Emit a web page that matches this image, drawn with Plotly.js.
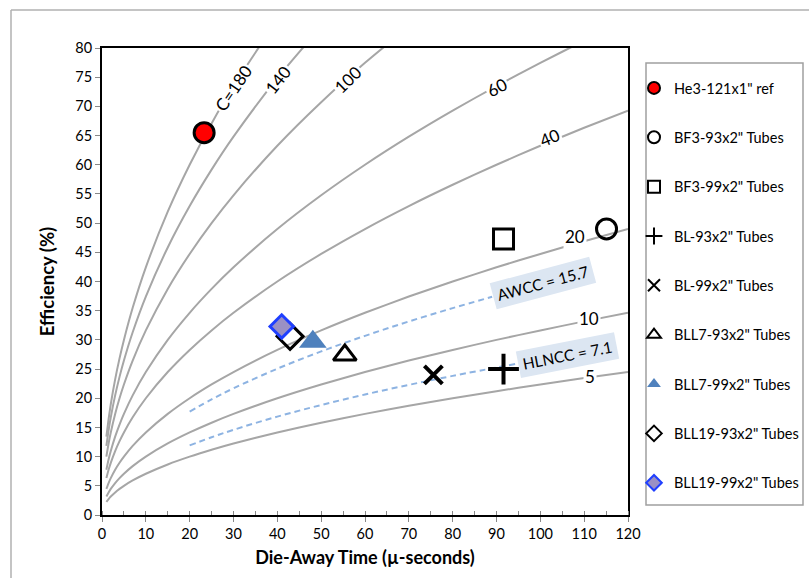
<!DOCTYPE html>
<html>
<head>
<meta charset="utf-8">
<script src="https://cdn.plot.ly/plotly-3.0.1.min.js"></script>
<style>
  html, body { margin: 0; padding: 0; background: #ffffff; overflow: hidden; }
  #chart { width: 809px; height: 578px; }
</style>
</head>
<body>
<div id="chart"></div>
<script>
// ---- Iso-C reference curves ----
const curveX = [1, 1.5, 2, 3, 4, 5, 7, 10, 15, 20, 25, 30, 40, 50, 60, 70, 80, 90, 100, 110, 120];
const c5Y   = [2.24, 2.74, 3.16, 3.87, 4.47, 5.00, 5.92, 7.07, 8.66, 10.00, 11.18, 12.25, 14.14, 15.81, 17.32, 18.71, 20.00, 21.21, 22.36, 23.45, 24.49];
const c10Y  = [3.16, 3.87, 4.47, 5.48, 6.32, 7.07, 8.37, 10.00, 12.25, 14.14, 15.81, 17.32, 20.00, 22.36, 24.49, 26.46, 28.28, 30.00, 31.62, 33.17, 34.64];
const c20Y  = [4.47, 5.48, 6.32, 7.75, 8.94, 10.00, 11.83, 14.14, 17.32, 20.00, 22.36, 24.49, 28.28, 31.62, 34.64, 37.42, 40.00, 42.43, 44.72, 46.90, 48.99];
const c40Y  = [6.32, 7.75, 8.94, 10.95, 12.65, 14.14, 16.73, 20.00, 24.49, 28.28, 31.62, 34.64, 40.00, 44.72, 48.99, 52.92, 56.57, 60.00, 63.25, 66.33, 69.28];
const c60Y  = [7.75, 9.49, 10.95, 13.42, 15.49, 17.32, 20.49, 24.49, 30.00, 34.64, 38.73, 42.43, 48.99, 54.77, 60.00, 64.81, 69.28, 73.48, 77.46, 81.24, 84.85];
const c100Y = [10.00, 12.25, 14.14, 17.32, 20.00, 22.36, 26.46, 31.62, 38.73, 44.72, 50.00, 54.77, 63.25, 70.71, 77.46, 83.67];
const c140Y = [11.83, 14.49, 16.73, 20.49, 23.66, 26.46, 31.30, 37.42, 45.83, 52.92, 59.16, 64.81, 74.83, 83.67];
const c180Y = [13.42, 16.43, 18.97, 23.24, 26.83, 30.00, 35.50, 42.43, 51.96, 60.00, 67.08, 73.48, 84.85];

// ---- Dashed counter curves ----
const awccX  = [20, 25, 30, 40, 50, 60, 70, 80, 89];
const awccY  = [17.72, 19.81, 21.70, 25.06, 28.02, 30.69, 33.15, 35.44, 37.38];
const hlnccX = [20, 25, 30, 40, 50, 60, 70, 80, 94.5];
const hlnccY = [11.92, 13.32, 14.59, 16.85, 18.84, 20.64, 22.29, 23.83, 25.90];

// ---- Detector points ----
const seriesNames = ['He3-121x1" ref', 'BF3-93x2" Tubes', 'BF3-99x2" Tubes', 'BL-93x2" Tubes', 'BL-99x2" Tubes',
                     'BLL7-93x2" Tubes', 'BLL7-99x2" Tubes', 'BLL19-93x2" Tubes', 'BLL19-99x2" Tubes'];
const dieAway    = [23.3, 115.1, 91.6, 91.6, 75.6, 55.4, 48.1, 42.9, 41.0];
const efficiency = [65.5, 49.0, 47.3, 25.0, 24.0, 27.4, 29.7, 30.6, 32.3];

// ---- Curve labels ----
const labelText = ['C=180', '140', '100', '60', '40', '20', '10', '5'];
const labelX    = [29.9, 40.2, 56.1, 90.0, 102.1, 107.8, 111.0, 111.4];
const labelY    = [73.1, 74.6, 74.6, 73.3, 64.6, 47.7, 33.7, 23.7];
const labelAng  = [-56, -52, -44, -28, -22, 0, 0, 0];

const boxText = ['AWCC = 15.7', 'HLNCC = 7.1'];
const boxX    = [100.6, 106.3];
const boxY    = [39.7, 27.4];
const boxAng  = [-15, -11];

const FONT = 'Lato, "Open Sans", "Liberation Sans", sans-serif';
const gray = '#a6a6a6';

const traces = [];
const curveSets = [c5Y, c10Y, c20Y, c40Y, c60Y, c100Y, c140Y, c180Y];
curveSets.forEach(ys => {
  traces.push({
    x: curveX.slice(0, ys.length), y: ys, type: 'scatter', mode: 'lines',
    line: {color: gray, width: 2, shape: 'spline', smoothing: 0.6},
    showlegend: false, hoverinfo: 'skip'
  });
});
[[awccX, awccY], [hlnccX, hlnccY]].forEach(([xs, ys]) => {
  traces.push({
    x: xs, y: ys, type: 'scatter', mode: 'lines',
    line: {color: '#8db3e2', width: 2, dash: '6px,4px', shape: 'spline'},
    showlegend: false, hoverinfo: 'skip'
  });
});

const markerStyles = [
  {symbol: 'circle', size: 20, color: '#ff0000', line: {color: '#000000', width: 3}},
  {symbol: 'circle-open', size: 20, color: '#000000', line: {color: '#000000', width: 3}},
  {symbol: 'square-open', size: 20, color: '#000000', line: {color: '#000000', width: 3}},
  {symbol: 'cross-thin-open', size: 22, color: '#000000', line: {color: '#000000', width: 4}},
  {symbol: 'x-thin-open', size: 18, color: '#000000', line: {color: '#000000', width: 4}},
  {symbol: 'triangle-up-open', size: 20, color: '#000000', line: {color: '#000000', width: 3}},
  {symbol: 'triangle-up', size: 24, color: '#4f81bd', line: {color: '#4f81bd', width: 0}},
  {symbol: 'diamond-open', size: 20, color: '#000000', line: {color: '#000000', width: 3}},
  {symbol: 'diamond', size: 18, color: '#9a90c4', line: {color: '#1f3fff', width: 3}}
];

seriesNames.forEach((name, i) => {
  traces.push({
    x: [dieAway[i]], y: [efficiency[i]], type: 'scatter', mode: 'markers',
    name: name, legendgroup: 'g' + i,
    marker: markerStyles[i], hoverinfo: 'name+x+y'
  });
});

const annotations = [];
labelText.forEach((t, i) => {
  annotations.push({
    x: labelX[i], y: labelY[i], xref: 'x', yref: 'y', text: t, showarrow: false,
    textangle: labelAng[i], bgcolor: '#ffffff', borderpad: 1,
    font: {family: FONT, size: 17, color: '#000000'}
  });
});
boxText.forEach((t, i) => {
  annotations.push({
    x: boxX[i], y: boxY[i], xref: 'x', yref: 'y', text: t, showarrow: false,
    textangle: boxAng[i], bgcolor: '#dce6f2', borderpad: 4,
    font: {family: FONT, size: 15.5, color: '#000000'}
  });
});

// paper spans x 102..809 (707 px); plot area 102..628
const PW = 707;
const px = v => (v - 102) / PW;
const py = v => (515 - v) / 467;

const layout = {
  width: 809, height: 578,
  margin: {l: 102, r: 0, t: 48, b: 63, autoexpand: false},
  paper_bgcolor: '#ffffff', plot_bgcolor: '#ffffff',
  font: {family: FONT, size: 14, color: '#000000'},
  xaxis: {
    domain: [0, 526 / PW],
    range: [0, 120], dtick: 10, tick0: 0,
    showgrid: false, zeroline: false,
    showline: true, linecolor: '#000000', linewidth: 2, mirror: true,
    ticks: 'outside', ticklen: 5, tickcolor: '#888888', tickwidth: 1,
    minor: {ticks: 'inside', ticklen: 4, dtick: 5, tickcolor: '#888888', showgrid: false},
    tickfont: {family: FONT, size: 14.5, color: '#000000'},
    title: {text: '<b>Die-Away Time (µ-seconds)</b>', font: {family: FONT, size: 18, color: '#000000'}, standoff: 10}
  },
  yaxis: {
    range: [0, 80], dtick: 5, tick0: 0,
    showgrid: false, zeroline: false,
    showline: true, linecolor: '#000000', linewidth: 2, mirror: true,
    ticks: 'outside', ticklen: 5, tickcolor: '#888888', tickwidth: 1,
    tickfont: {family: FONT, size: 14.5, color: '#000000'},
    title: {text: '<b>Efficiency (%)</b>', font: {family: FONT, size: 18.5, color: '#000000'}, standoff: 16}
  },
  showlegend: true,
  legend: {
    x: px(634), y: py(72), xanchor: 'left', yanchor: 'top',
    borderwidth: 0, bgcolor: 'rgba(0,0,0,0)',
    font: {family: FONT, size: 14.5, color: '#000000'},
    traceorder: 'grouped', tracegroupgap: 27.5, itemsizing: 'constant', itemwidth: 30
  },
  annotations: annotations,
  shapes: [
    {type: 'line', xref: 'paper', yref: 'paper',
     x0: px(11), x1: px(809), y0: py(10), y1: py(10),
     line: {color: '#b0b0b0', width: 1.5}, layer: 'below'},
    {type: 'line', xref: 'paper', yref: 'paper',
     x0: px(11), x1: px(11), y0: py(10), y1: py(578),
     line: {color: '#b0b0b0', width: 1.5}, layer: 'below'},
    {type: 'rect', xref: 'paper', yref: 'paper',
     x0: px(646), x1: px(803), y0: py(505), y1: py(63),
     line: {color: '#a0a0a0', width: 1.5}, fillcolor: '#ffffff', layer: 'below'}
  ]
};

Plotly.newPlot('chart', traces, layout, {displayModeBar: false, staticPlot: true});
</script>
</body>
</html>
